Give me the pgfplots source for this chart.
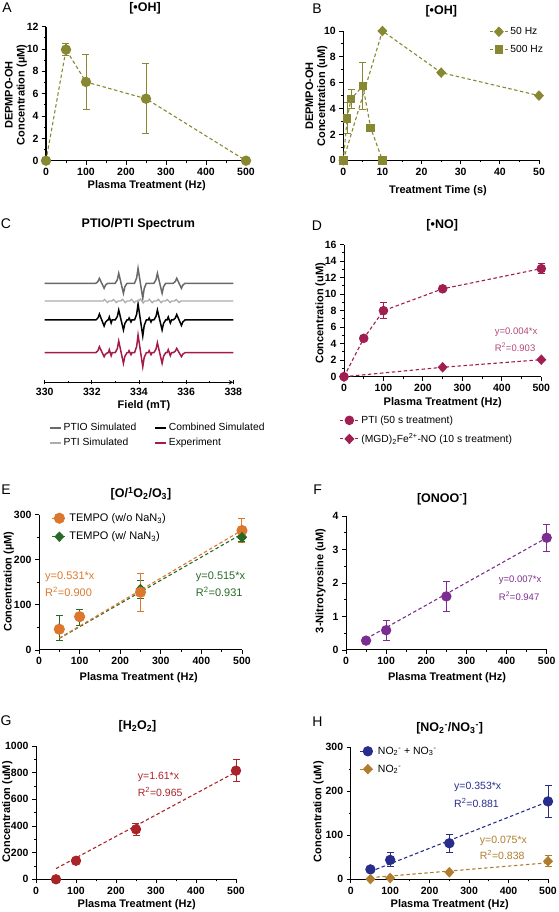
\documentclass[border=0pt]{standalone}
\usepackage{fontspec}
\setmainfont{Liberation Sans}
\setsansfont{Liberation Sans}
\usepackage{pgfplots}
\pgfplotsset{compat=1.18}
\definecolor{olivec}{RGB}{137,136,50}
\definecolor{gray1}{RGB}{105,105,105}
\definecolor{gray2}{RGB}{172,172,172}
\definecolor{expred}{RGB}{165,25,75}
\definecolor{crimD}{RGB}{160,30,80}
\definecolor{crimDt}{RGB}{180,70,120}
\definecolor{orangeE}{RGB}{220,120,45}
\definecolor{greenE}{RGB}{40,105,40}
\definecolor{purpF}{RGB}{125,45,145}
\definecolor{redG}{RGB}{170,35,40}
\definecolor{navyH}{RGB}{40,45,140}
\definecolor{brownH}{RGB}{175,125,45}
\newcommand{\tfont}{\bfseries\fontsize{12.5}{14}\selectfont}
\newcommand{\lfont}{\bfseries\fontsize{11}{12}\selectfont}
\newcommand{\pfont}{\fontsize{14}{16}\selectfont}
\pgfplotsset{
  gp/.style={
    scale only axis, anchor=south west, clip=false,
    axis lines=left, axis line style={-, line width=1pt},
    tick align=outside, major tick length=4pt, minor tick length=2.2pt,
    every tick/.append style={line width=0.9pt, black},
    tick label style={font=\bfseries\fontsize{10.5}{12}\selectfont},
    /pgf/number format/assume math mode=true,
    /pgf/number format/1000 sep={},
    scaled ticks=false,
    minor tick num=1,
    every axis plot/.append style={line width=1.1pt},
    legend cell align=left,
  },
  eb/.style={error bars/y dir=both, error bars/y explicit,
    error bars/error bar style={line width=1pt, solid},
    error bars/error mark options={rotate=90, mark size=3.5pt, line width=1pt, solid}},
  dsh/.style={dash pattern=on 3.5pt off 2.5pt},
  limg/.style={legend image code/.code={\draw[mark repeat=2,mark phase=2,##1, sharp plot, dash pattern=on 3pt off 2pt] plot coordinates {(0pt,0pt) (#1/2,0pt) (#1,0pt)};}},
  lline/.style={legend image code/.code={\draw[##1] (0pt,0pt) -- (#1,0pt);}},
}
\begin{document}
\begin{tikzpicture}
\useasboundingbox (0,0) rectangle (558pt,912pt);

% ---------------- A ----------------
\begin{axis}[gp, at={(46pt,751.3pt)}, width=200pt, height=134pt,
  xmin=0, xmax=500, ymin=0, ymax=12, xtick={0,100,...,500}, ytick={0,2,...,12}]
\addplot[olivec, dsh, mark=*, mark size=4.6pt, mark options={solid, fill=olivec}, eb]
 coordinates {(0,0) +- (0,0) (50,9.95) +- (0,0.5) (100,7.05) +- (0,2.45) (250,5.55) +- (0,3.15) (500,0) +- (0,0)};
\end{axis}

% ---------------- B ----------------
\begin{axis}[gp, at={(343.3pt,751.7pt)}, width=195.7pt, height=129.3pt,
  xmin=0, xmax=50, ymin=0, ymax=10, xtick={0,10,...,50}, ytick={0,2,...,10},
  legend style={draw=none, fill=none, at={(axis description cs:0.73,1.06)}, anchor=north west,
    font=\fontsize{10.3}{12}\selectfont, row sep=5pt}, limg=18pt]
\addplot[olivec, dsh, mark=diamond*, mark size=4.5pt, mark options={solid, fill=olivec, xscale=1.25}]
 coordinates {(0,0) (10,10) (25,6.78) (50,5.0)};
\addlegendentry{50 Hz}
\addplot[olivec, dsh, mark=square*, mark size=3.7pt, mark options={solid, fill=olivec}, eb]
 coordinates {(0,0) +- (0,0) (1,3.25) +- (0,1.2) (2,4.75) +- (0,0.75) (5,5.75) +- (0,1.85) (7,2.5) +- (0,0) (10,0) +- (0,0)};
\addlegendentry{500 Hz}
\end{axis}

% ---------------- C ----------------
\begin{axis}[gp, at={(44.7pt,529.7pt)}, width=188.6pt, height=127.3pt,
  xmin=330, xmax=338, ymin=0, ymax=127.3, axis y line=none, axis x line=bottom,
  xtick={330,332,...,338},
  legend columns=2,
  legend style={draw=none, fill=none, at={(axis description cs:0.007,-0.29)}, anchor=north west,
    font=\fontsize{10.3}{12}\selectfont, row sep=2pt, /tikz/every even column/.append style={column sep=16pt}},
  lline=11pt]
\addplot[gray1, line width=1.5pt] coordinates {
(330,99)
(332.17,99) (332.26,100.8) (332.32,104) (332.52,94) (332.58,97.2) (332.67,99)
(332.99,99) (333.08,102.5) (333.14,109) (333.34,89) (333.40,95.5) (333.49,99)
(333.81,99) (333.90,104.3) (333.96,114) (334.16,84) (334.22,93.7) (334.31,99)
(334.63,99) (334.72,102.5) (334.78,109) (334.98,89) (335.04,95.5) (335.13,99)
(335.45,99) (335.54,100.8) (335.60,104) (335.80,94) (335.86,97.2) (335.95,99)
(338,99)};
\addlegendentry{PTIO Simulated}
\addplot[black, line width=1.5pt] coordinates {
(330,62.3)
(332.17,62.3) (332.26,64.4) (332.32,68.3) (332.52,56.3) (332.58,60.2) (332.67,62.3)
(332.70,62.3) (332.74,65.3) (332.82,59.3) (332.86,62.3)
(332.99,62.3) (333.08,65.8) (333.14,72.3) (333.34,52.3) (333.40,58.8) (333.49,62.3)
(333.54,62.3) (333.58,64.3) (333.66,60.3) (333.70,62.3)
(333.81,62.3) (333.90,67.9) (333.96,78.3) (334.16,46.3) (334.22,56.7) (334.31,62.3)
(334.39,62.3) (334.43,64.3) (334.51,60.3) (334.55,62.3)
(334.63,62.3) (334.72,65.8) (334.78,72.3) (334.98,52.3) (335.04,58.8) (335.13,62.3)
(335.19,62.3) (335.24,65.3) (335.33,59.3) (335.38,62.3)
(335.45,62.3) (335.54,64.2) (335.60,67.8) (335.80,56.8) (335.86,60.4) (335.95,62.3)
(338,62.3)};
\addlegendentry{Combined Simulated}
\addplot[gray2, line width=1.3pt] coordinates {
(330,81.3)
(332.47,81.3) (332.54,82.8) (332.66,79.8) (332.73,81.3)
(332.85,81.3) (332.92,82.8) (333.04,79.8) (333.11,81.3)
(333.23,81.3) (333.30,83) (333.42,79.6) (333.49,81.3)
(333.61,81.3) (333.68,83) (333.80,79.6) (333.87,81.3)
(333.99,81.3) (334.06,83.3) (334.18,79.3) (334.25,81.3)
(334.37,81.3) (334.44,83) (334.56,79.6) (334.63,81.3)
(334.75,81.3) (334.82,83) (334.94,79.6) (335.01,81.3)
(335.13,81.3) (335.20,82.8) (335.32,79.8) (335.39,81.3)
(335.51,81.3) (335.58,82.8) (335.70,79.8) (335.77,81.3)
(338,81.3)};
\addlegendentry{PTI Simulated}
\addplot[expred, line width=1.5pt] coordinates {
(330,29.6)
(332.17,29.6) (332.26,31.7) (332.32,35.6) (332.52,25.6) (332.58,28.2) (332.67,29.6)
(332.70,29.6) (332.74,32.6) (332.82,26.6) (332.86,29.6)
(332.99,29.6) (333.08,33.7) (333.14,41.3) (333.34,18.9) (333.40,25.9) (333.49,29.6)
(333.54,29.6) (333.58,31.6) (333.66,27.6) (333.70,29.6)
(333.81,29.6) (333.90,35.8) (333.96,47.3) (334.16,15.6) (334.22,24.7) (334.31,29.6)
(334.39,29.6) (334.43,31.6) (334.51,27.6) (334.55,29.6)
(334.63,29.6) (334.72,33.1) (334.78,39.6) (334.98,18.9) (335.04,25.9) (335.13,29.6)
(335.19,29.6) (335.24,32.6) (335.33,26.6) (335.38,29.6)
(335.45,29.6) (335.54,31.1) (335.60,33.9) (335.80,25.6) (335.86,28.2) (335.95,29.6)
(338,29.6)};
\addlegendentry{Experiment}
\end{axis}

% ---------------- D ----------------
\begin{axis}[gp, at={(344pt,535.3pt)}, width=197.3pt, height=132pt,
  xmin=0, xmax=500, ymin=0, ymax=16, xtick={0,100,...,500}, ytick={0,2,...,16},
  legend style={draw=none, fill=none, at={(axis description cs:-0.04,-0.265)}, anchor=north west,
    font=\fontsize{10.3}{12}\selectfont, row sep=5pt}, limg=19pt]
\addplot[crimD, dsh, mark=*, mark size=4.2pt, mark options={solid, fill=crimD}, eb]
 coordinates {(0,0) +- (0,0) (50,4.65) +- (0,0) (100,8.0) +- (0,0.95) (250,10.65) +- (0,0) (500,13.1) +- (0,0.65)};
\addlegendentry{PTI (50 s treatment)}
\addplot[crimD, dsh, mark=diamond*, mark size=4.5pt, mark options={solid, fill=crimD, xscale=1.25}]
 coordinates {(0,0) (250,1.14) (500,2.06)};
\addlegendentry{(MGD)\textsubscript{2}Fe\textsuperscript{2+}-NO (10 s treatment)}
\end{axis}

% ---------------- E ----------------
\begin{axis}[gp, at={(39pt,262pt)}, width=203pt, height=135.3pt,
  xmin=0, xmax=500, ymin=0, ymax=300, xtick={0,100,...,500}, ytick={0,100,200,300},
  legend style={draw=none, fill=none, at={(axis description cs:0.045,1.04)}, anchor=north west,
    font=\fontsize{11}{12}\selectfont, row sep=5pt}, limg=15pt]
\addplot[greenE, only marks, mark=diamond*, mark size=4.5pt, mark options={solid, fill=greenE, xscale=1.25}, forget plot, eb]
 coordinates {(50,48) +- (0,28) (100,72) +- (0,18) (250,135) +- (0,20) (500,250) +- (0,10)};
\addplot[orangeE, only marks, mark=*, mark size=5pt, mark options={solid, fill=orangeE}, eb]
 coordinates {(50,46) +- (0,8) (100,74) +- (0,8) (250,128) +- (0,42) (500,265) +- (0,27)};
\addlegendentry{TEMPO (w/o NaN\textsubscript{3})}
\addplot[greenE, only marks, mark=diamond*, mark size=4.5pt, mark options={solid, fill=greenE, xscale=1.25}]
 coordinates {(500,250)};
\addlegendentry{TEMPO (w/ NaN\textsubscript{3})}
\addplot[greenE, dsh, forget plot] coordinates {(50,25.75) (500,257.5)};
\addplot[orangeE, dsh, forget plot] coordinates {(50,26.55) (500,265.5)};
\end{axis}

% ---------------- F ----------------
\begin{axis}[gp, at={(346pt,262pt)}, width=200.7pt, height=134pt,
  xmin=0, xmax=500, ymin=0, ymax=4, xtick={0,100,...,500}, ytick={0,1,...,4}]
\addplot[purpF, dsh] coordinates {(50,0.335) (500,3.35)};
\addplot[purpF, only marks, mark=*, mark size=4.6pt, mark options={solid, fill=purpF}, eb]
 coordinates {(50,0.28) +- (0,0) (100,0.59) +- (0,0.3) (250,1.6) +- (0,0.44) (500,3.35) +- (0,0.4)};
\end{axis}

% ---------------- G ----------------
\begin{axis}[gp, at={(36pt,32.7pt)}, width=200pt, height=133.3pt,
  xmin=0, xmax=500, ymin=0, ymax=1000, xtick={0,100,...,500}, ytick={0,200,...,1000}]
\addplot[redG, dsh] coordinates {(50,80.5) (500,805)};
\addplot[redG, only marks, mark=*, mark size=4.6pt, mark options={solid, fill=redG}, eb]
 coordinates {(50,0) +- (0,0) (100,139) +- (0,0) (250,375) +- (0,45) (500,815) +- (0,80)};
\end{axis}

% ---------------- H ----------------
\begin{axis}[gp, at={(350.7pt,32.7pt)}, width=197.3pt, height=132pt,
  xmin=0, xmax=500, ymin=0, ymax=300, xtick={0,100,...,500}, ytick={0,100,200,300},
  legend style={draw=none, fill=none, at={(axis description cs:0.03,1.035)}, anchor=north west,
    font=\fontsize{10.5}{12}\selectfont, row sep=5pt}, limg=15pt]
\addplot[navyH, only marks, mark=*, mark size=4.6pt, mark options={solid, fill=navyH}, eb]
 coordinates {(50,22.5) +- (0,0) (100,44) +- (0,16) (250,82) +- (0,20) (500,177) +- (0,37)};
\addlegendentry{NO\textsubscript{2}\textsuperscript{-} + NO\textsubscript{3}\textsuperscript{-}}
\addplot[brownH, only marks, mark=diamond*, mark size=4.5pt, mark options={solid, fill=brownH, xscale=1.25}, eb]
 coordinates {(50,0.5) +- (0,0) (100,3) +- (0,0) (250,16) +- (0,0) (500,41) +- (0,12)};
\addlegendentry{NO\textsubscript{2}\textsuperscript{-}}
\addplot[navyH, dsh, forget plot] coordinates {(50,17.65) (500,176.5)};
\addplot[brownH, dsh, forget plot] coordinates {(50,3.75) (500,37.5)};
\end{axis}

% ---------------- text ----------------
\node[font=\pfont] at (7pt,904.5pt) {A};
\node[font=\pfont] at (317pt,903.3pt) {B};
\node[font=\pfont] at (6pt,688pt) {C};
\node[font=\pfont] at (317pt,686.2pt) {D};
\node[font=\pfont] at (6pt,422.5pt) {E};
\node[font=\pfont] at (317.7pt,422.5pt) {F};
\node[font=\pfont] at (6pt,191pt) {G};
\node[font=\pfont] at (317.5pt,190.7pt) {H};

\node[font=\tfont] at (145pt,904pt) {[•OH]};
\node[font=\tfont] at (441.3pt,900.7pt) {[•OH]};
\node[font=\tfont] at (138.3pt,687.7pt) {PTIO/PTI Spectrum};
\node[font=\tfont] at (442.2pt,686.3pt) {[•NO]};
\node[font=\tfont] at (141pt,418.2pt) {[O/\textsuperscript{1}O\textsubscript{2}/O\textsubscript{3}]};
\node[font=\tfont] at (442pt,413pt) {[ONOO\textsuperscript{-}]};
\node[font=\tfont] at (137.5pt,185.3pt) {[H\textsubscript{2}O\textsubscript{2}]};
\node[font=\tfont] at (449.7pt,183.7pt) {[NO\textsubscript{2}\textsuperscript{-}/NO\textsubscript{3}\textsuperscript{-}]};

\node[font=\lfont] at (146.7pt,726pt) {Plasma Treatment (Hz)};
\node[font=\lfont] at (438pt,721.3pt) {Treatment Time (s)};
\node[font=\lfont] at (144pt,506.7pt) {Field (mT)};
\node[font=\lfont] at (442.7pt,509.3pt) {Plasma Treatment (Hz)};
\node[font=\lfont] at (138.7pt,234.5pt) {Plasma Treatment (Hz)};
\node[font=\lfont] at (447pt,234.5pt) {Plasma Treatment (Hz)};
\node[font=\lfont] at (136.7pt,7pt) {Plasma Treatment (Hz)};
\node[font=\lfont] at (449.7pt,7pt) {Plasma Treatment (Hz)};

\node[font=\lfont, rotate=90, align=center] at (16pt,817pt) {DEPMPO-OH\\Concentration (µM)};
\node[font=\lfont, rotate=90, align=center] at (316.5pt,816pt) {DEPMPO-OH\\Concentration (uM)};
\node[font=\lfont, rotate=90] at (320.5pt,598.7pt) {Concentration (uM)};
\node[font=\lfont, rotate=90] at (8.7pt,330.3pt) {Concentration (µM)};
\node[font=\lfont, rotate=90] at (320.5pt,331.2pt) {3-Nitrotyrosine (uM)};
\node[font=\lfont, rotate=90] at (7.2pt,100.3pt) {Concentration (uM)};
\node[font=\lfont, rotate=90] at (318.5pt,100.3pt) {Concentration (uM)};

\node[font=\fontsize{9.5}{11}\selectfont, text=crimDt, anchor=west, inner sep=0pt] at (494.7pt,580pt) {y=0.004*x};
\node[font=\fontsize{9.5}{11}\selectfont, text=crimDt, anchor=west, inner sep=0pt] at (494.7pt,564.7pt) {R\textsuperscript{2}=0.903};
\node[font=\fontsize{11}{12}\selectfont, text=orangeE, anchor=west, inner sep=0pt] at (45pt,335.3pt) {y=0.531*x};
\node[font=\fontsize{11}{12}\selectfont, text=orangeE, anchor=west, inner sep=0pt] at (45pt,319.7pt) {R\textsuperscript{2}=0.900};
\node[font=\fontsize{11}{12}\selectfont, text=greenE, anchor=west, inner sep=0pt] at (195.7pt,335.3pt) {y=0.515*x};
\node[font=\fontsize{11}{12}\selectfont, text=greenE, anchor=west, inner sep=0pt] at (195.7pt,319.7pt) {R\textsuperscript{2}=0.931};
\node[font=\fontsize{9.5}{11}\selectfont, text=purpF, anchor=west, inner sep=0pt] at (498.7pt,332pt) {y=0.007*x};
\node[font=\fontsize{9.5}{11}\selectfont, text=purpF, anchor=west, inner sep=0pt] at (498.7pt,316pt) {R\textsuperscript{2}=0.947};
\node[font=\fontsize{10.5}{12}\selectfont, text=redG, anchor=west, inner sep=0pt] at (137.7pt,134.7pt) {y=1.61*x};
\node[font=\fontsize{10.5}{12}\selectfont, text=redG, anchor=west, inner sep=0pt] at (137.7pt,119.7pt) {R\textsuperscript{2}=0.965};
\node[font=\fontsize{10.5}{12}\selectfont, text=navyH, anchor=west, inner sep=0pt] at (454pt,124.7pt) {y=0.353*x};
\node[font=\fontsize{10.5}{12}\selectfont, text=navyH, anchor=west, inner sep=0pt] at (454pt,108.7pt) {R\textsuperscript{2}=0.881};
\node[font=\fontsize{10.5}{12}\selectfont, text=brownH, anchor=west, inner sep=0pt] at (479.7pt,71.3pt) {y=0.075*x};
\node[font=\fontsize{10.5}{12}\selectfont, text=brownH, anchor=west, inner sep=0pt] at (479.7pt,56.7pt) {R\textsuperscript{2}=0.838};
\end{tikzpicture}
\end{document}
